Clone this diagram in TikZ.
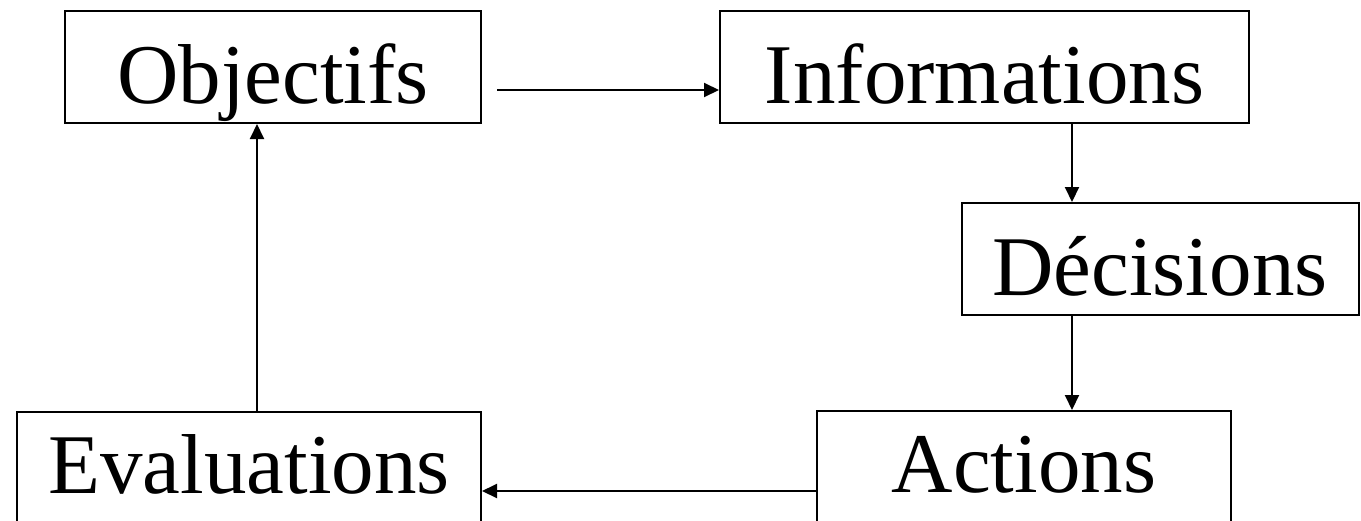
\documentclass[tikz,border=0pt]{standalone}
\usepackage{fontspec}
\setmainfont{Liberation Serif}
\usetikzlibrary{arrows.meta}
\begin{document}
\begin{tikzpicture}[x=1pt,y=-1pt,
  boxtop/.style={draw,line width=2pt,inner sep=0pt,text height=92pt,text depth=20pt,font=\fontsize{85}{100}\selectfont},
  boxbot/.style={draw,line width=2pt,inner sep=0pt,text height=81pt,text depth=31pt,font=\fontsize{85}{100}\selectfont},
  arr/.style={line width=2pt,-{Triangle[length=15pt,width=14pt]}}]
\useasboundingbox (0,0) rectangle (1361,520);
\node[boxtop,minimum width=416pt] (obj) at (273,67) {Objectifs};
\node[boxtop,minimum width=529pt] (inf) at (984.5,67) {Informations};
\node[boxtop,minimum width=397pt] (dec) at (1160,259) {Décisions};
\node[boxbot,minimum width=464pt] (eva) at (249,468) {Evaluations};
\node[boxbot,minimum width=414pt] (act) at (1024,467) {Actions};
\coordinate (s1) at (497,90);
\draw[arr] (s1) -- (s1 -| inf.west);
\draw[arr] ([xshift=87.5pt]inf.south) -- ([xshift=87.5pt]inf.south |- dec.north);
\draw[arr] ([xshift=-88pt]dec.south) -- ([xshift=-88pt]dec.south |- act.north);
\draw[arr] ([yshift=-24pt]act.west) -- ([yshift=-24pt]act.west -| eva.east);
\draw[arr] ([xshift=8pt]eva.north) -- ([xshift=8pt]eva.north |- obj.south);
\end{tikzpicture}
\end{document}
